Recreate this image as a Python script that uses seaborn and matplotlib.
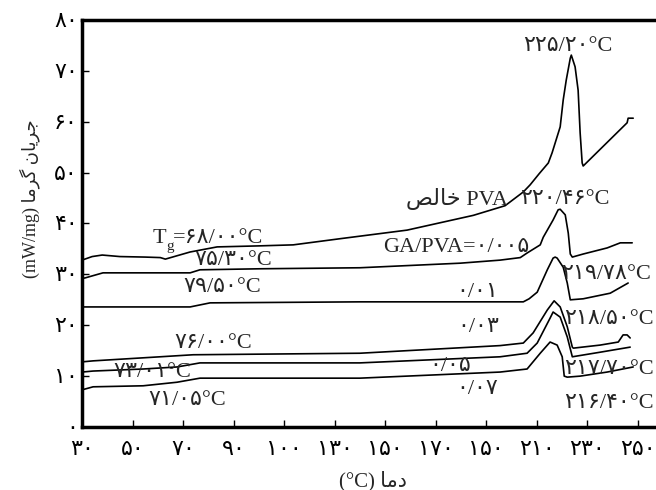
import matplotlib
matplotlib.use('Agg')
import matplotlib.pyplot as plt
import seaborn as sns

# DSC curves: temperature (C) vs heat flow (mW/mg)
pva_x = [30, 34, 38, 45, 55, 61, 63, 72.8, 83.5, 100, 113.6, 132, 158.7,
         184.9, 197.5, 204.7, 207.4, 211, 214.6, 216.1, 219.3, 220.5,
         221.7, 223.3, 223.7, 225.2, 226.4, 227.2, 228.0, 228.4, 245.8,
         246.2, 248.2]
pva_y = [32.8, 33.5, 33.8, 33.5, 33.4, 33.3, 33.0, 34.4, 35.4, 35.6, 35.8,
         37.0, 38.7, 41.6, 43.5, 46.2, 47.6, 49.8, 51.9, 53.9, 59.0, 64.3,
         68.2, 72.5, 73.1, 70.8, 66.2, 57.8, 51.9, 51.3, 59.8, 60.7, 60.7]

ga005_x = [30, 31.2, 38.3, 72.8, 76.7, 100.5, 140, 179.7, 195.5, 203.5,
           206.2, 211.4, 212.6, 216.5, 218.5, 219.3, 221.3, 222.5, 223.3,
           224.1, 228.4, 237.9, 243.1, 247.8]
ga005_y = [29.2, 29.3, 30.3, 30.3, 30.9, 31.1, 31.3, 32.2, 32.8, 33.3,
           34.2, 35.8, 37.3, 40.7, 42.7, 42.8, 41.7, 38.1, 34.0, 33.4, 34.0,
           35.2, 36.2, 36.2]

ga01_x = [30, 72.8, 80.7, 140, 204.7, 207, 210.2, 214.2, 216.5, 217.3,
          218.1, 220.5, 222.1, 223.3, 228.4, 239.1, 246.2]
ga01_y = [23.6, 23.6, 24.4, 24.6, 24.6, 25.2, 26.5, 30.9, 33.2, 33.4, 33.2,
          31.4, 28.3, 25.0, 25.2, 26.3, 28.3]

ga03_x = [30, 34.4, 60.9, 74.0, 140, 195.5, 204.7, 208.6, 214.2, 216.9,
          219.3, 222.1, 224.1, 224.5, 235.1, 242.3, 244.2, 245.8, 247.0]
ga03_y = [12.8, 13.0, 13.8, 14.2, 14.5, 16.0, 16.5, 18.5, 23.0, 24.8, 23.6,
          19.7, 15.7, 15.5, 16.1, 16.7, 18.1, 18.1, 17.5]

ga05_x = [30, 34.4, 54.2, 67.6, 76.7, 140, 195.5, 206.2, 210.2, 215.3,
          216.5, 219.3, 222.1, 224.1, 235.1, 247.0]
ga05_y = [10.8, 11.0, 11.4, 11.8, 12.6, 12.6, 13.8, 14.5, 16.5, 21.4, 22.6,
          21.6, 17.7, 13.8, 14.7, 15.7]

ga07_x = [30, 34.4, 54.2, 67.6, 76.7, 140, 195.5, 206.2, 211.4, 215.3,
          218.1, 220.1, 220.9, 222.1, 227.2, 237.9, 248.2]
ga07_y = [7.3, 7.9, 8.1, 8.8, 9.6, 9.6, 10.8, 11.4, 14.5, 16.7, 16.1, 13.8,
          10.0, 9.8, 10.0, 10.8, 11.8]

x_ticks = [30, 50, 70, 90, 110, 130, 150, 170, 190, 210, 230, 250]
x_tick_labels = ['۳۰', '۵۰', '۷۰', '۹۰', '۱۰۰', '۱۳۰', '۱۵۰', '۱۷۰',
                 '۱۵۰', '۲۱۰', '۲۳۰', '۲۵۰']
y_ticks = [0, 10, 20, 30, 40, 50, 60, 70, 80]
y_tick_labels = ['۰', '۱۰', '۲۰', '۳۰', '۴۰', '۵۰', '۶۰', '۷۰', '۸۰']

# Persian words written in presentation forms, visual order
x_label = '(°C) ' + '\uFE8E\uFEE3\uFEA9'
y_label = ('(mW/mg) ' + '\uFE8E\uFEE3\uFEAE\uFB94' + ' '
           + '\uFEE5\uFE8E\uFBFE\uFEAE\uFE9F')
pure_label = '\uFEBA\uFEDF\uFE8E\uFEA7 PVA'

sns.set_style('ticks')
plt.rcParams['font.family'] = ['Liberation Serif', 'DejaVu Sans']

fig = plt.figure(figsize=(6.56, 4.9), dpi=100)
ax = fig.add_axes([82 / 656, 63 / 490, 581 / 656, 407 / 490])

curves = [(pva_x, pva_y), (ga005_x, ga005_y), (ga01_x, ga01_y),
          (ga03_x, ga03_y), (ga05_x, ga05_y), (ga07_x, ga07_y)]
for cx, cy in curves:
    sns.lineplot(x=cx, y=cy, color='black', linewidth=1.2, sort=False,
                 estimator=None, ax=ax)

ax.set_xlim(30, 260)
ax.set_ylim(0, 80)
ax.set_xticks(x_ticks)
ax.set_xticklabels(x_tick_labels)
ax.set_yticks(y_ticks)
ax.set_yticklabels(y_tick_labels)
ax.tick_params(direction='in', length=5, width=1, labelsize=16,
               colors='black')
ax.tick_params(axis='x', pad=10)
ax.tick_params(axis='y', pad=3)
for side in ['left', 'bottom', 'top', 'right']:
    ax.spines[side].set_linewidth(2.5)
    ax.spines[side].set_color('black')

ax.set_xlabel(x_label, fontsize=15, labelpad=8)
ax.set_ylabel(y_label, fontsize=13)
ax.yaxis.set_label_coords(-0.072, 0.56)

fs = 16
notes = [
    ('۲۲۵/۲۰°C', 222.4, 74.7),
    (pure_label, 178.5, 44.8),
    ('۲۲۰/۴۶°C', 221.2, 44.8),
    ('۷۵/۳۰°C', 89.8, 32.8),
    ('۷۹/۵۰°C', 85.4, 27.5),
    ('GA/PVA=۰/۰۰۵', 178.1, 35.2),
    ('۲۱۹/۷۸°C', 237.4, 29.9),
    ('۰/۰۱', 186.4, 26.5),
    ('۲۱۸/۵۰°C', 238.6, 21.2),
    ('۰/۰۳', 186.8, 19.5),
    ('۷۶/۰۰°C', 81.9, 16.5),
    ('۷۳/۰۱°C', 57.7, 10.8),
    ('۰/۰۵', 175.7, 11.8),
    ('۰/۰۷', 186.4, 7.3),
    ('۲۱۷/۷۰°C', 238.6, 11.4),
    ('۲۱۶/۴۰°C', 238.6, 4.7),
    ('۷۱/۰۵°C', 71.6, 5.3),
]
for txt, tx, ty in notes:
    ax.text(tx, ty, txt, fontsize=fs, ha='center', va='center')

# glass transition of pure PVA, with subscript g
t1 = ax.text(58.1, 36.2, 'T', fontsize=fs, ha='left', va='baseline')
ax.annotate('g', xy=(1, 0), xycoords=t1, xytext=(0, -4),
            textcoords='offset points', fontsize=11, va='bottom')
ax.annotate('=۶۸/۰۰°C', xy=(1, 0), xycoords=t1, xytext=(4.5, 0),
            textcoords='offset points', fontsize=fs, va='bottom')

fig.savefig('out.png', dpi=100)
